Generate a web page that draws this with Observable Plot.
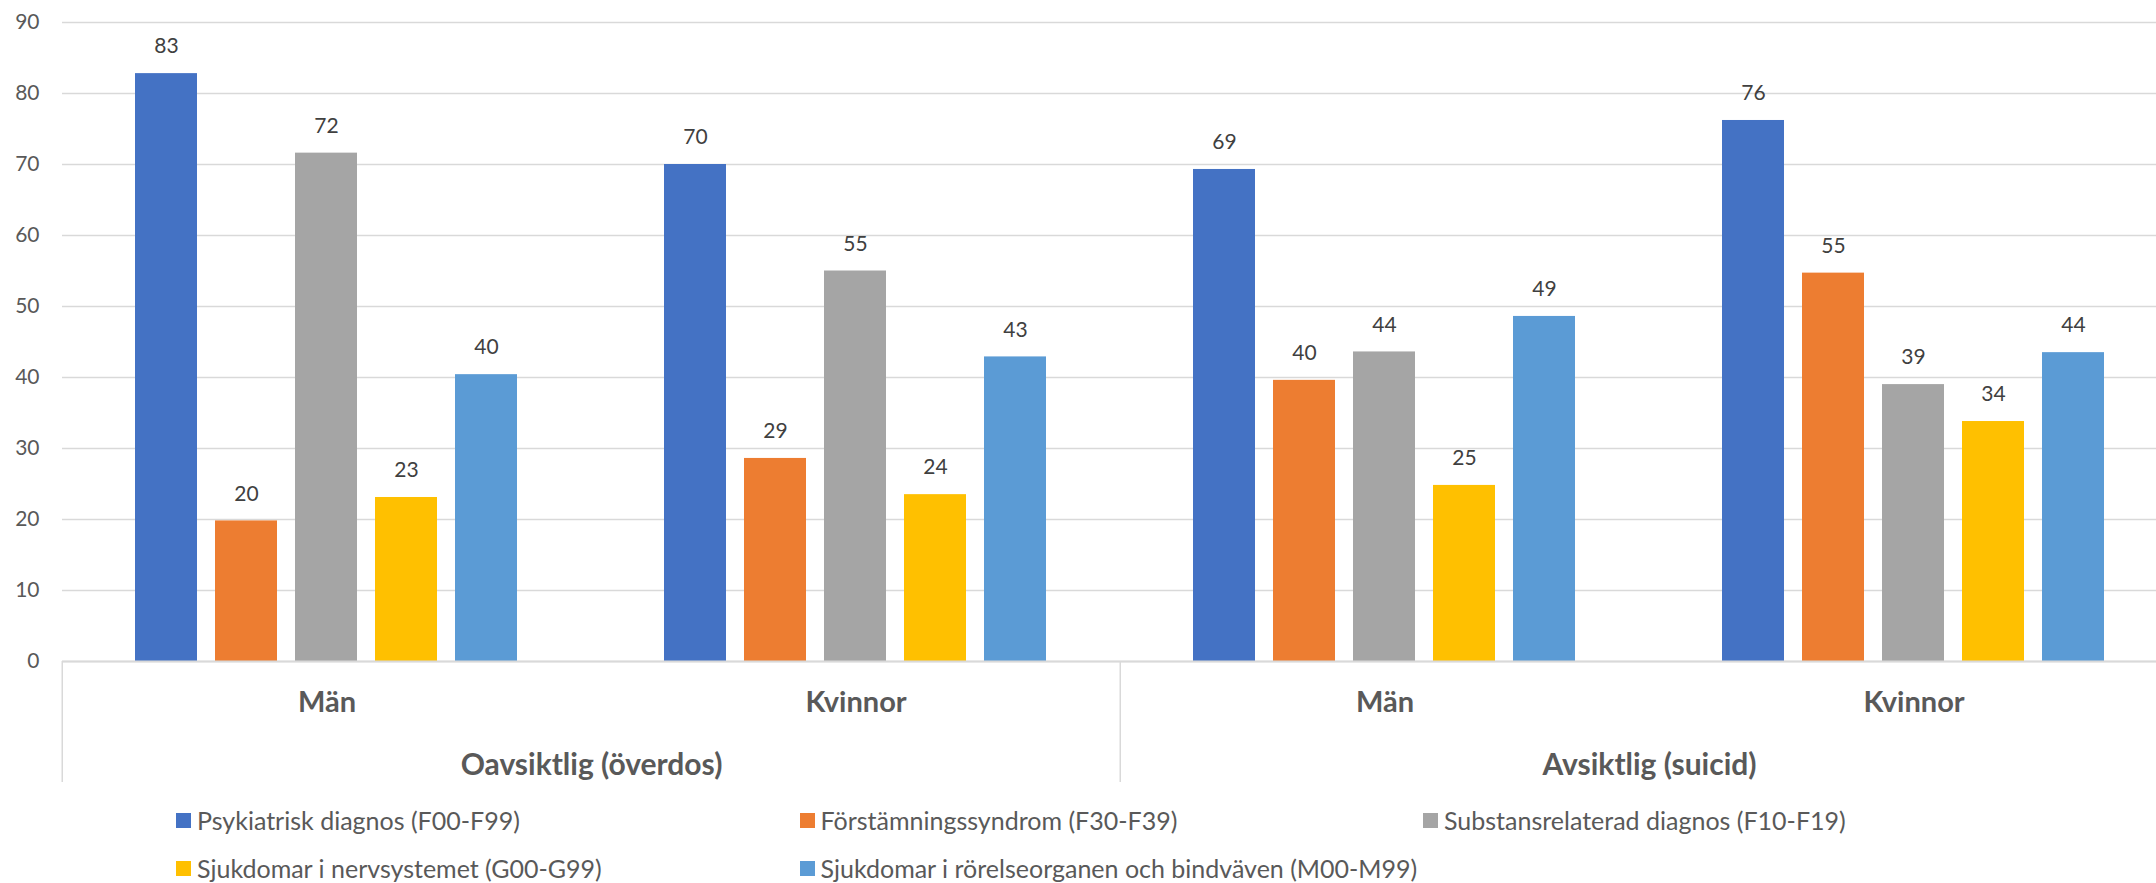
<!DOCTYPE html>
<html>
<head>
<meta charset="utf-8">
<script src="https://cdn.jsdelivr.net/npm/d3@7"></script>
<script src="https://cdn.jsdelivr.net/npm/@observablehq/plot@0.6"></script>
<style>
  html, body { margin: 0; padding: 0; background: #fff; overflow: hidden; }
  #chart { width: 2156px; height: 883px; position: relative; font-family: Lato, "Noto Sans", sans-serif; }
  .legend { display: flex; flex-wrap: wrap; width: 1900px; padding: 4px 0 0 176px; }
  .legend-item { width: 623.5px; height: 48px; display: flex; align-items: center; font-size: 25px; color: #595959; white-space: nowrap; }
  .legend-swatch { width: 15px; height: 15px; margin-right: 6px; flex: none; }
</style>
</head>
<body>
<div id="chart"></div>
<script>
// ---- Data ----
const outerGroups = ["Oavsiktlig (överdos)", "Avsiktlig (suicid)"];
const sexes = ["Män", "Kvinnor"];
const seriesNames = [
  "Psykiatrisk diagnos (F00-F99)",
  "Förstämningssyndrom (F30-F39)",
  "Substansrelaterad diagnos (F10-F19)",
  "Sjukdomar i nervsystemet (G00-G99)",
  "Sjukdomar i rörelseorganen och bindväven (M00-M99)"
];
const seriesColors = ["#4472C4", "#ED7D31", "#A5A5A5", "#FFC000", "#5B9BD5"];
// values per group: Oavsiktlig-Män, Oavsiktlig-Kvinnor, Avsiktlig-Män, Avsiktlig-Kvinnor
const psykiatrisk = [82.8, 70.0, 69.3, 76.2];
const forstamning = [19.8, 28.6, 39.6, 54.7];
const substans = [71.6, 55.0, 43.6, 39.0];
const nervsystemet = [23.1, 23.5, 24.8, 33.8];
const rorelse = [40.4, 42.9, 48.6, 43.5];
const yTicks = [0, 10, 20, 30, 40, 50, 60, 70, 80, 90];

// ---- Derived table ----
const seriesValues = [psykiatrisk, forstamning, substans, nervsystemet, rorelse];
const groupKeys = outerGroups.flatMap(o => sexes.map(s => `${o}|${s}`));
const table = seriesNames.flatMap((name, si) =>
  seriesValues[si].map((v, gi) => ({key: groupKeys[gi], series: name, value: v})));

// ---- Layout ----
const W = 2156, H = 792;
const mL = 61, mR = -23, mT = 22, mB = 131;
const groupW = (W - mL - mR) / groupKeys.length;
const grey = "#d9d9d9";
const textGrey = "#595959";

const chart = Plot.plot({
  width: W,
  height: H,
  marginLeft: mL,
  marginRight: mR,
  marginTop: mT,
  marginBottom: mB,
  style: {fontFamily: "Lato, 'Noto Sans', sans-serif", color: textGrey, background: "#fff", overflow: "hidden"},
  fx: {domain: groupKeys, padding: 0, axis: null},
  x: {domain: seriesNames, paddingInner: 0.22, paddingOuter: 0.8755, axis: null},
  y: {domain: [0, 90], axis: null},
  color: {domain: seriesNames, range: seriesColors},
  marks: [
    Plot.gridY(yTicks, {stroke: grey, strokeOpacity: 1, strokeWidth: 1.5}),
    Plot.axisY(yTicks, {tickSize: 0, tickPadding: 23, fontSize: 21, fill: textGrey, anchor: "left", label: null}),
    Plot.barY(table, {fx: "key", x: "series", y: "value", fill: "series"}),
    Plot.ruleY([0], {stroke: grey, strokeWidth: 2}),
    Plot.text(table, {fx: "key", x: "series", y: "value", text: d => String(Math.round(d.value)),
      dy: -27, lineAnchor: "middle", fill: "#404040", fontSize: 21}),
    // sex labels under each group
    Plot.text(groupKeys, {fx: d => d, text: d => d.split("|")[1], frameAnchor: "bottom",
      textAnchor: "middle", lineAnchor: "middle", dy: 41, fontSize: 29, fontWeight: "bold", fill: textGrey}),
    // outer category labels, centred on the boundary between their two groups
    Plot.text(outerGroups, {fx: d => `${d}|${sexes[0]}`, text: d => d, frameAnchor: "bottom-right",
      textAnchor: "middle", lineAnchor: "middle", dy: 104, fontSize: 30, fontWeight: "bold", fill: textGrey}),
    // category dividers at the left of each outer group
    Plot.ruleX(outerGroups, {fx: d => `${d}|${sexes[0]}`, x: null, dx: -groupW / 2,
      insetTop: 639, insetBottom: -121, stroke: grey, strokeWidth: 1.5})
  ]
});

const host = document.getElementById("chart");
host.appendChild(chart);

// legend built from the plot's colour scale
const colorScale = chart.scale("color");
const legend = document.createElement("div");
legend.className = "legend";
colorScale.domain.forEach((name, i) => {
  const item = document.createElement("div");
  item.className = "legend-item";
  const sw = document.createElement("span");
  sw.className = "legend-swatch";
  sw.style.background = colorScale.range[i];
  const label = document.createElement("span");
  label.textContent = name;
  item.appendChild(sw);
  item.appendChild(label);
  legend.appendChild(item);
});
host.appendChild(legend);
</script>
</body>
</html>
